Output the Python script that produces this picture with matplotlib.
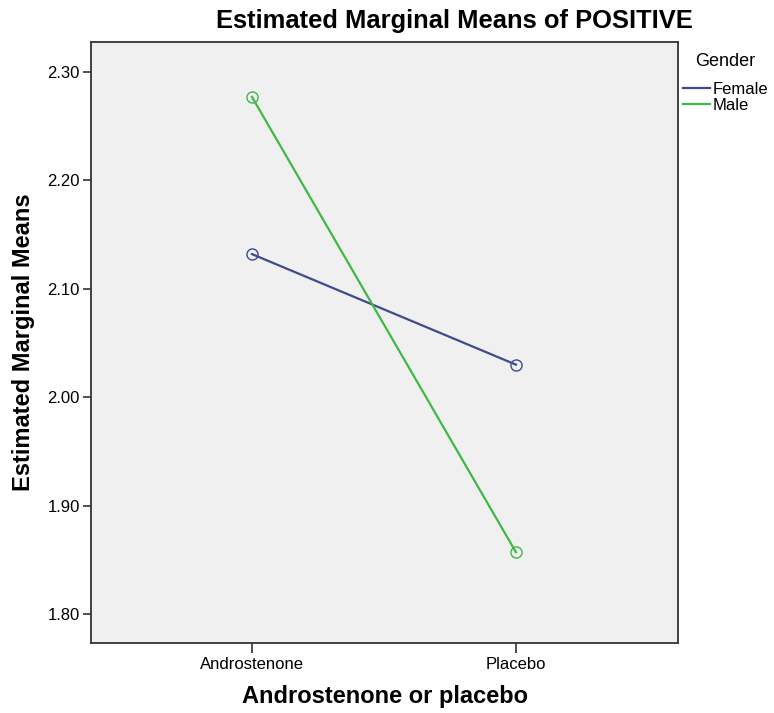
import matplotlib
matplotlib.use("Agg")
import matplotlib.pyplot as plt

plt.rcParams['font.family'] = ['Liberation Sans', 'DejaVu Sans']

# ===== data =====
conditions = ["Androstenone", "Placebo"]
female_means = [2.132, 2.030]
male_means = [2.277, 1.857]
y_ticks = [1.80, 1.90, 2.00, 2.10, 2.20, 2.30]

FEMALE_COLOR = "#3e4a8e"
MALE_COLOR = "#3fb845"

W, H = 774, 713
fig = plt.figure(figsize=(W / 100, H / 100), dpi=100)
# axes frame: x 91..678, y 42..643 (pixels)
ax = fig.add_axes([91 / W, 1 - 643 / H, (678 - 91) / W, (643 - 42) / H])
ax.set_facecolor("#f0f0f0")

x = list(range(len(conditions)))
ax.plot(x, female_means, color=FEMALE_COLOR, lw=1.6, marker="o", ms=8,
        mfc="none", mec=FEMALE_COLOR, mew=1.0, label="Female")
ax.plot(x, male_means, color=MALE_COLOR, lw=1.6, marker="o", ms=8,
        mfc="none", mec=MALE_COLOR, mew=1.0, label="Male")

ax.set_xlim(-0.610, 1.614)
ax.set_ylim(1.7732, 2.3277)
ax.set_xticks(x)
ax.set_xticklabels(conditions, fontsize=12)
ax.set_yticks(y_ticks)
ax.set_yticklabels([f"{v:.2f}" for v in y_ticks], fontsize=12)
ax.tick_params(axis="x", length=7, width=1.2, color="#333333", pad=3)
ax.tick_params(axis="y", length=6, width=1.2, color="#333333", pad=2)
for s in ax.spines.values():
    s.set_linewidth(1.3)
    s.set_color("#333333")

fig.text(454 / W, 1 - 21 / H, "Estimated Marginal Means of POSITIVE",
         fontsize=18.4, fontweight="bold", ha="center", va="center")

ax.set_xlabel("Androstenone or placebo", fontsize=17, fontweight="bold")
ax.xaxis.label.set_va("center")
ax.xaxis.set_label_coords(0.5, -(697 - 643) / 601)
ax.set_ylabel("Estimated Marginal Means", fontsize=17, fontweight="bold")
ax.yaxis.label.set_va("center")
ax.yaxis.set_label_coords((24 - 91) / 587, 0.5)

# legend title placed on its own, entries below it
fig.text(725 / W, 1 - 62 / H, "Gender", fontsize=13, ha="center", va="center")
handles, labels = ax.get_legend_handles_labels()
leg = fig.legend(handles, labels, loc="upper left",
                 bbox_to_anchor=(683 / W, 1 - 82 / H), frameon=False,
                 fontsize=12, handlelength=1.6, handletextpad=0.18,
                 labelspacing=0.05, borderpad=0, borderaxespad=0)
for h in leg.legend_handles:
    h.set_marker("")

fig.savefig("out.png", dpi=100)
